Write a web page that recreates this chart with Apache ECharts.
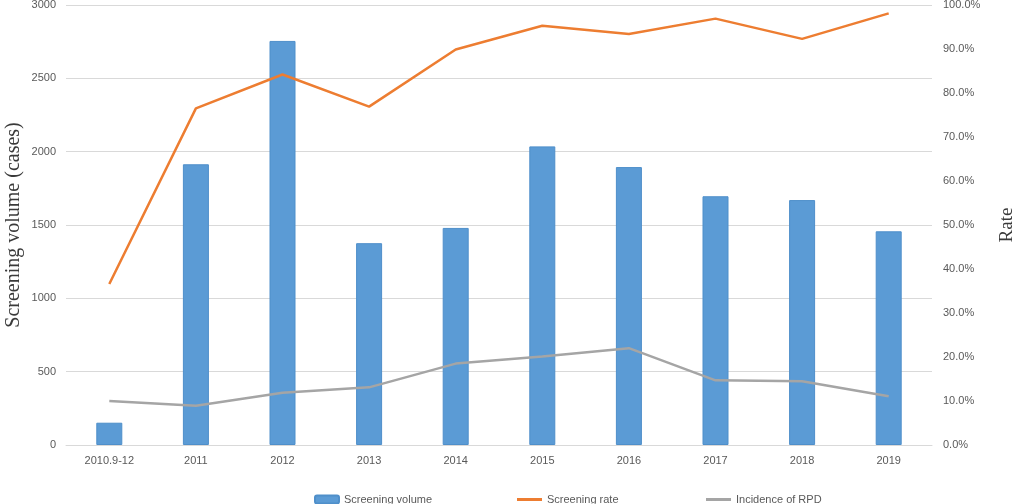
<!DOCTYPE html>
<html>
<head>
<meta charset="utf-8">
<script src="https://cdn.jsdelivr.net/npm/echarts@6/dist/echarts.min.js"></script>
<style>
  html, body { margin: 0; padding: 0; background: #fff; }
  #main { width: 1013px; height: 504px; }
</style>
</head>
<body>
<div id="main"></div>
<script>
// data
var years = ['2010.9-12', '2011', '2012', '2013', '2014', '2015', '2016', '2017', '2018', '2019'];
var screeningVolume = [152, 1914, 2755, 1376, 1480, 2036, 1895, 1696, 1670, 1457];
var screeningRate = [36.6, 76.5, 84.2, 76.9, 89.9, 95.3, 93.4, 96.9, 92.3, 98.1];
var incidenceRPD = [10.0, 8.9, 11.9, 13.1, 18.5, 20.1, 22.0, 14.7, 14.5, 11.1];

var labelFont = 'Liberation Sans';
var tickColor = '#595959';

var chart = echarts.init(document.getElementById('main'));

var option = {
    animation: false,
    grid: { left: 66, right: 81, top: 5, bottom: 59, containLabel: false, outerBoundsMode: 'none' },
    legend: [{
        left: 309, top: 489,
        itemWidth: 24, itemHeight: 8, itemGap: 5,
        textStyle: { fontFamily: labelFont, fontSize: 11, color: tickColor },
        data: ['Screening volume']
    }, {
        left: 512, top: 489,
        itemWidth: 25, itemHeight: 8,
        textStyle: { fontFamily: labelFont, fontSize: 11, color: tickColor },
        data: [{ name: 'Screening rate', icon: 'path://M0,0 L25,0 L25,3 L0,3 Z' }]
    }, {
        left: 701, top: 489,
        itemWidth: 25, itemHeight: 8,
        textStyle: { fontFamily: labelFont, fontSize: 11, color: tickColor },
        data: [{ name: 'Incidence of RPD', icon: 'path://M0,0 L25,0 L25,3 L0,3 Z' }]
    }],
    xAxis: {
        type: 'category',
        data: years,
        axisLine: { lineStyle: { color: '#d9d9d9', width: 1 } },
        axisTick: { show: false },
        axisLabel: { fontFamily: labelFont, fontSize: 11, color: tickColor, margin: 10 }
    },
    yAxis: [{
        type: 'value',
        min: 0, max: 3000, interval: 500,
        name: 'Screening volume (cases)',
        nameLocation: 'middle',
        nameGap: 42,
        nameMoveOverlap: false,
        nameTextStyle: { fontFamily: 'Liberation Serif', fontSize: 20, color: '#3a3a3a' },
        axisLine: { show: false },
        axisTick: { show: false },
        axisLabel: {
            fontFamily: labelFont, fontSize: 11, color: tickColor, margin: 10,
            formatter: function (v) { return String(v); }
        },
        splitLine: { lineStyle: { color: '#d9d9d9', width: 1 } }
    }, {
        type: 'value',
        min: 0, max: 100, interval: 10,
        name: 'Rate',
        nameLocation: 'middle',
        nameGap: 66,
        nameTextStyle: { fontFamily: 'Liberation Serif', fontSize: 19, color: '#3a3a3a' },
        axisLine: { show: false },
        axisTick: { show: false },
        splitLine: { show: false },
        axisLabel: {
            fontFamily: labelFont, fontSize: 11, color: tickColor, margin: 11,
            formatter: function (v) { return v.toFixed(1) + '%'; }
        }
    }],
    series: [{
        name: 'Screening volume',
        type: 'bar',
        barWidth: 26,
        itemStyle: { color: '#5b9bd5', borderColor: '#4f8fca', borderWidth: 1 },
        data: screeningVolume
    }, {
        name: 'Screening rate',
        type: 'line',
        yAxisIndex: 1,
        symbol: 'none',
        itemStyle: { color: '#ed7d31' },
        lineStyle: { color: '#ed7d31', width: 2.5 },
        data: screeningRate
    }, {
        name: 'Incidence of RPD',
        type: 'line',
        yAxisIndex: 1,
        symbol: 'none',
        itemStyle: { color: '#a5a5a5' },
        lineStyle: { color: '#a5a5a5', width: 2.5 },
        data: incidenceRPD
    }]
};

chart.setOption(option);
</script>
</body>
</html>
